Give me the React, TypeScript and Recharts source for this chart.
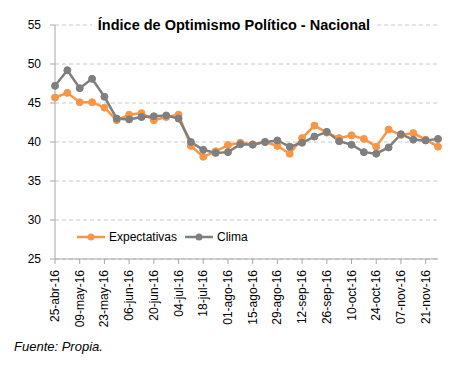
import React from "react";
import { LineChart, Line, XAxis, YAxis, CartesianGrid } from "recharts";

const categories = [
  "25-abr-16", "02-may-16", "09-may-16", "16-may-16", "23-may-16", "30-may-16",
  "06-jun-16", "13-jun-16", "20-jun-16", "27-jun-16", "04-jul-16", "11-jul-16",
  "18-jul-16", "25-jul-16", "01-ago-16", "08-ago-16", "15-ago-16", "22-ago-16",
  "29-ago-16", "05-sep-16", "12-sep-16", "19-sep-16", "26-sep-16", "03-oct-16",
  "10-oct-16", "17-oct-16", "24-oct-16", "31-oct-16", "07-nov-16", "14-nov-16",
  "21-nov-16", "28-nov-16",
];

const expectativas = [
  45.7, 46.3, 45.1, 45.1, 44.4, 42.8, 43.5, 43.7, 42.8, 43.2, 43.5,
  39.5, 38.1, 38.8, 39.6, 39.9, 39.7, 40.0, 39.5, 38.5, 40.5, 42.1,
  41.2, 40.5, 40.85, 40.4, 39.4, 41.6, 40.9, 41.15, 40.3, 39.4,
];

const clima = [
  47.2, 49.2, 46.9, 48.1, 45.8, 43.0, 42.9, 43.2, 43.3, 43.4, 43.0,
  40.0, 39.0, 38.6, 38.7, 39.7, 39.65, 40.0, 40.2, 39.4, 39.9, 40.7,
  41.3, 40.1, 39.65, 38.7, 38.5, 39.3, 41.0, 40.3, 40.2, 40.4,
];

const yTicks = [25, 30, 35, 40, 45, 50, 55];

const data = categories.map((c, i) => ({
  date: c,
  Expectativas: expectativas[i],
  Clima: clima[i],
}));

const ORANGE = "#F79646";
const GRAY = "#7F7F7F";
const FONT = "'Liberation Sans', Arial, sans-serif";

const XTick = (props: any) => {
  const { x, y, payload } = props;
  return (
    <text
      x={x}
      y={y}
      transform={`rotate(-90 ${x} ${y})`}
      textAnchor="end"
      dominantBaseline="central"
      fontSize={12}
      fontFamily={FONT}
      fill="#000"
    >
      {payload.value}
    </text>
  );
};

const LegendItem = ({ color, label, width }: { color: string; label: string; width: number }) => (
  <div style={{ display: "flex", alignItems: "center", marginRight: 6 }}>
    <svg width={28} height={10} style={{ marginRight: 4 }}>
      <line x1={0} y1={5} x2={28} y2={5} stroke={color} strokeWidth={2.5} />
      <circle cx={14} cy={5} r={3.5} fill={color} />
    </svg>
    <span style={{ width }}>{label}</span>
  </div>
);

export default function App() {
  return (
    <div style={{ position: "absolute", left: 0, top: 0, width: 465, height: 368, background: "#fff" }}>
      <LineChart
        width={465}
        height={368}
        data={data}
        margin={{ top: 25, right: 27, left: 0, bottom: 29 }}
      >
        <CartesianGrid vertical={false} stroke="#C8C8C8" strokeDasharray="4 3" />
        <XAxis
          dataKey="date"
          interval={1}
          height={80}
          tick={<XTick />}
          tickSize={5}
          tickMargin={6}
          stroke="#A6A6A6"
          padding={{ left: 0, right: 0 }}
        />
        <YAxis
          domain={[25, 55]}
          ticks={yTicks}
          width={55}
          tickSize={5}
          tickMargin={9}
          stroke="#A6A6A6"
          tick={{ fill: "#000", fontSize: 12, fontFamily: FONT }}
        />
        <Line
          type="linear"
          dataKey="Expectativas"
          stroke={ORANGE}
          strokeWidth={2.5}
          dot={{ r: 3.5, fill: ORANGE, stroke: ORANGE, strokeWidth: 1 }}
          isAnimationActive={false}
        />
        <Line
          type="linear"
          dataKey="Clima"
          stroke={GRAY}
          strokeWidth={2.5}
          dot={{ r: 3.5, fill: GRAY, stroke: GRAY, strokeWidth: 1 }}
          isAnimationActive={false}
        />
      </LineChart>
      <div
        style={{
          position: "absolute",
          left: 0,
          width: 468,
          top: 16,
          textAlign: "center",
          fontFamily: FONT,
          fontWeight: "bold",
          fontSize: 14.5,
          lineHeight: "18px",
          pointerEvents: "none",
        }}
      >
        <span style={{ background: "#fff", padding: "0 6px" }}>
          Índice de Optimismo Político - Nacional
        </span>
      </div>
      <div
        style={{
          position: "absolute",
          left: 77,
          top: 229,
          display: "flex",
          fontFamily: FONT,
          fontSize: 12,
          lineHeight: "16px",
          background: "#fff",
        }}
      >
        <LegendItem color={ORANGE} label="Expectativas" width={70} />
        <LegendItem color={GRAY} label="Clima" width={34} />
      </div>
      <div
        style={{
          position: "absolute",
          left: 14,
          top: 339,
          fontFamily: FONT,
          fontStyle: "italic",
          fontSize: 13,
          lineHeight: "16px",
        }}
      >
        Fuente: Propia.
      </div>
    </div>
  );
}
